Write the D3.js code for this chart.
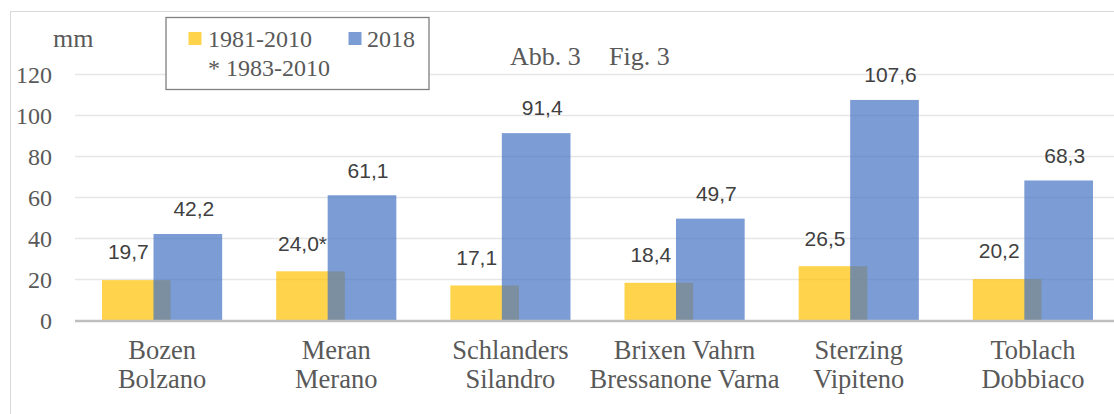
<!DOCTYPE html>
<html>
<head>
<meta charset="utf-8">
<script src="https://cdn.jsdelivr.net/npm/d3@7"></script>
<style>
  html, body { margin: 0; padding: 0; background: #fff; }
  svg { display: block; }
</style>
</head>
<body>
<svg id="chart" width="1114" height="414"></svg>
<script>
// ---- data ----
const categories = ["Bozen|Bolzano", "Meran|Merano", "Schlanders|Silandro", "Brixen Vahrn|Bressanone Varna", "Sterzing|Vipiteno", "Toblach|Dobbiaco"];
const normal = [19.7, 24.0, 17.1, 18.4, 26.5, 20.2];
const normalMarks = ["", "*", "", "", "", ""];
const y2018 = [42.2, 61.1, 91.4, 49.7, 107.6, 68.3];
const yTicks = [0, 20, 40, 60, 80, 100, 120];
const seriesNames = ["1981-2010", "2018"];
const legendNote = "* 1983-2010";
const unitLabel = "mm";
const titleParts = ["Abb. 3", "Fig. 3"];

// ---- setup ----
const svg = d3.select("#chart");
const W = 1114, H = 414;
const serif = "'Liberation Serif', 'Times New Roman', serif";
const sans = "'Liberation Sans', Arial, sans-serif";
const textGray = "#595959";
const yellow = "#FFC000", blue = "#4472C4", barOpacity = 0.7;

// outer chart border (right/bottom fall outside the visible area)
svg.append("rect").attr("x", 10.5).attr("y", 11.5).attr("width", 1120).attr("height", 420)
  .attr("fill", "#fff").attr("stroke", "#D9D9D9").attr("stroke-width", 1);

const y = d3.scaleLinear().domain([0, 120]).range([320.5, 74.5]);
const x0 = d3.scaleBand().domain(categories).range([75, 1120]).paddingInner(0.31).paddingOuter(0.155);
const bw = x0.bandwidth() / 1.75;

// gridlines
svg.append("g").selectAll("line").data(yTicks.filter(d => d > 0)).join("line")
  .attr("x1", 75).attr("x2", W).attr("y1", d => y(d)).attr("y2", d => y(d))
  .attr("stroke", "#E6E6E6").attr("stroke-width", 1.3);

// y axis labels
const yAxis = d3.axisLeft(y).tickValues(yTicks).tickSize(0).tickPadding(0).tickFormat(d3.format("d"));
const gy = svg.append("g").attr("transform", "translate(52,0)").call(yAxis);
gy.select(".domain").remove();
gy.selectAll("text").attr("font-family", serif).attr("font-size", 24).attr("fill", textGray).attr("dy", "0.33em");

// bars
const groups = svg.append("g").selectAll("g").data(categories).join("g");
groups.append("rect")
  .attr("x", d => x0(d)).attr("width", bw)
  .attr("y", (d, i) => y(normal[i])).attr("height", (d, i) => y(0) - y(normal[i]))
  .attr("fill", yellow).attr("fill-opacity", barOpacity);
groups.append("rect")
  .attr("x", d => x0(d) + x0.bandwidth() - bw).attr("width", bw)
  .attr("y", (d, i) => y(y2018[i])).attr("height", (d, i) => y(0) - y(y2018[i]))
  .attr("fill", blue).attr("fill-opacity", barOpacity);

// x baseline
svg.append("line").attr("x1", 75).attr("x2", W).attr("y1", y(0) + 0.5).attr("y2", y(0) + 0.5)
  .attr("stroke", "#BFBFBF").attr("stroke-width", 2.5);

// data labels
const fmt = v => d3.format(".1f")(v).replace(".", ",");
groups.append("text")
  .attr("x", d => x0(d) + bw / 2 - 8)
  .attr("y", (d, i) => y(normal[i]) - 28)
  .attr("dy", "0.35em").attr("text-anchor", "middle")
  .attr("font-family", sans).attr("font-size", 21).attr("fill", "#404040")
  .text((d, i) => fmt(normal[i]) + normalMarks[i]);
groups.append("text")
  .attr("x", d => x0(d) + x0.bandwidth() - bw / 2 + 6)
  .attr("y", (d, i) => y(y2018[i]) - 25)
  .attr("dy", "0.35em").attr("text-anchor", "middle")
  .attr("font-family", sans).attr("font-size", 21).attr("fill", "#404040")
  .text((d, i) => fmt(y2018[i]));

// category labels
groups.append("text")
  .attr("text-anchor", "middle")
  .attr("font-family", serif).attr("font-size", 26.5).attr("fill", textGray)
  .selectAll("tspan").data(d => d.split("|").map(s => ({ s, c: d }))).join("tspan")
  .attr("x", d => x0(d.c) + x0.bandwidth() / 2)
  .attr("y", (d, i) => 359 + i * 29)
  .text(d => d.s);

// unit label
svg.append("text").attr("x", 53).attr("y", 47).attr("font-family", serif).attr("font-size", 26)
  .attr("fill", textGray).text(unitLabel);

// title (two parts with a wide gap)
const title = svg.append("text").attr("y", 65).attr("font-family", serif).attr("font-size", 26)
  .attr("fill", textGray);
title.append("tspan").attr("x", 510).text(titleParts[0]);
title.append("tspan").attr("x", 609).text(titleParts[1]);

// legend
const lg = svg.append("g");
lg.append("rect").attr("x", 166).attr("y", 17.5).attr("width", 263).attr("height", 72)
  .attr("fill", "#fff").attr("stroke", "#7F7F7F").attr("stroke-width", 1.3);
const legendItems = [
  { name: seriesNames[0], color: yellow, sx: 188.5, tx: 208 },
  { name: seriesNames[1], color: blue, sx: 348.5, tx: 367 }
];
legendItems.forEach(it => {
  lg.append("rect").attr("x", it.sx).attr("y", 32).attr("width", 13).attr("height", 13)
    .attr("fill", it.color).attr("fill-opacity", barOpacity);
  lg.append("text").attr("x", it.tx).attr("y", 46.5).attr("font-family", serif).attr("font-size", 24)
    .attr("fill", textGray).text(it.name);
});
lg.append("text").attr("x", 208).attr("y", 76).attr("font-family", serif).attr("font-size", 24)
  .attr("fill", textGray).text(legendNote);
</script>
</body>
</html>
